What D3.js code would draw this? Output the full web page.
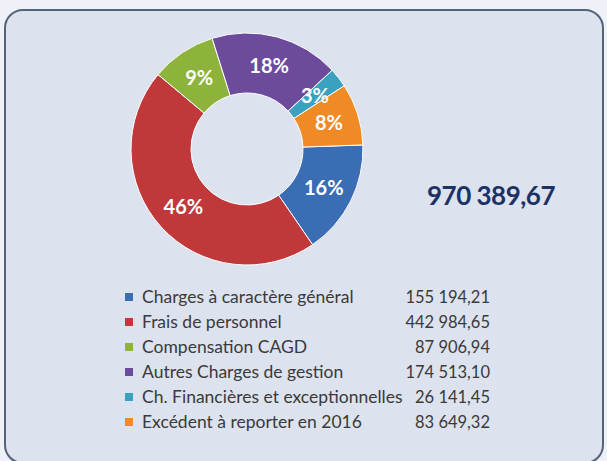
<!DOCTYPE html>
<head>
  <meta charset="utf-8">
  <script src="https://d3js.org/d3.v7.min.js"></script>
  <style>
  body { margin: 0; background: #eef1f7; }
  text { font-family: Lato, "Open Sans", sans-serif; }
  .pct { fill: #fff; font-weight: bold; font-size: 20px; }
  .legend text { fill: #3a3a3a; font-size: 17.5px; }
  .legend text.val { font-size: 16.5px; }
  </style>
</head>

<body>
  <script>
    // chart data
    var categories = ["Charges à caractère général", "Frais de personnel", "Compensation CAGD",
                      "Autres Charges de gestion", "Ch. Financières et exceptionnelles",
                      "Excédent à reporter en 2016"];
    var values = [155194.21, 442984.65, 87906.94, 174513.10, 26141.45, 83649.32];
    var pctLabels = ["16%", "46%", "9%", "18%", "3%", "8%"];
    var colors = ["#3b6db4", "#c0383a", "#8db33c", "#6c4a9c", "#3aa2c0", "#ef8a25"];

    var width = 607, height = 461;

    // french number format: 155 194,21
    var fr = d3.formatLocale({decimal: ",", thousands: " ", grouping: [3], currency: ["", ""]});
    var fmt = fr.format(",.2f");

    var color = d3.scaleOrdinal().domain(categories).range(colors);

    var svg = d3.select("body")
      .append("svg")
      .attr("width", width)
      .attr("height", height);

    // panel
    svg.append("rect")
      .attr("x", 5).attr("y", 10)
      .attr("width", 598).attr("height", 453)
      .attr("rx", 18)
      .attr("fill", "#dce2ee")
      .attr("stroke", "#54637a")
      .attr("stroke-width", 2);

    // donut
    var cx = 247, cy = 149, outerR = 116, innerR = 56;
    var start = 88 * Math.PI / 180;

    var pie = d3.pie().sort(null).startAngle(start).endAngle(start + 2 * Math.PI);
    var arc = d3.arc().innerRadius(innerR).outerRadius(outerR);
    var labelArc = d3.arc().innerRadius(86).outerRadius(86);

    var arcs = pie(values);

    var g = svg.append("g")
      .attr("transform", "translate(" + cx + "," + cy + ")");

    g.selectAll("path")
      .data(arcs)
      .enter().append("path")
      .attr("d", arc)
      .attr("fill", function(d, i) { return color(categories[i]); })
      .attr("stroke", "#fff")
      .attr("stroke-width", 1);

    g.selectAll(".pct")
      .data(arcs)
      .enter().append("text")
      .attr("class", "pct")
      .attr("transform", function(d) { return "translate(" + labelArc.centroid(d) + ")"; })
      .attr("text-anchor", "middle")
      .attr("dy", "0.36em")
      .text(function(d, i) { return pctLabels[i]; });

    // total
    svg.append("text")
      .attr("x", 491).attr("y", 205)
      .attr("text-anchor", "middle")
      .attr("font-size", "26px")
      .attr("font-weight", "bold")
      .attr("fill", "#1d3264")
      .attr("letter-spacing", "-0.5px")
      .text(fmt(d3.sum(values)));

    // legend
    var y = d3.scalePoint().domain(categories).range([297, 422]);

    var legend = svg.append("g").attr("class", "legend");
    var row = legend.selectAll("g")
      .data(categories)
      .enter().append("g")
      .attr("transform", function(d) { return "translate(0," + y(d) + ")"; });

    row.append("rect")
      .attr("x", 125).attr("y", -4)
      .attr("width", 8).attr("height", 8)
      .attr("fill", function(d) { return color(d); });

    row.append("text")
      .attr("x", 142).attr("dy", "0.35em")
      .text(function(d) { return d; });

    row.append("text")
      .attr("class", "val")
      .attr("x", 490).attr("dy", "0.35em")
      .attr("text-anchor", "end")
      .text(function(d, i) { return fmt(values[i]); });
  </script>
</body>
